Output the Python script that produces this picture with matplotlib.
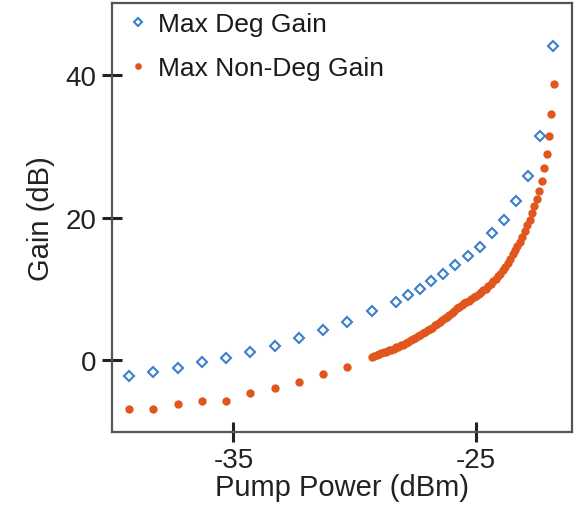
import numpy as np
import matplotlib.pyplot as plt

plt.rcParams['font.family'] = ['Liberation Sans', 'DejaVu Sans']
plt.rcParams['axes.unicode_minus'] = False

# max degenerate gain (diamonds)
deg_power = [-39.3, -38.3, -37.3, -36.3, -35.3, -34.3, -33.3, -32.3, -31.3, -30.3,
             -29.3, -28.3, -27.8, -27.3, -26.85, -26.35, -25.85, -25.35, -24.85,
             -24.35, -23.85, -23.35, -22.85, -22.35, -21.85]
deg_gain = [-2.3, -1.8, -1.2, -0.4, 0.2, 1.1, 1.9, 3.0, 4.1, 5.3,
            6.9, 8.1, 9.1, 10.0, 11.0, 12.1, 13.3, 14.6, 15.9,
            17.8, 19.7, 22.3, 25.8, 31.5, 44.2]

# max non-degenerate gain (dots): coarse part then fine 0.1 dBm part
nondeg_power_coarse = [-39.3, -38.3, -37.3, -36.3, -35.3, -34.3, -33.3, -32.3, -31.3, -30.3]
nondeg_gain_coarse = [-6.9, -6.9, -6.3, -5.8, -5.8, -4.7, -4.0, -3.2, -2.1, -1.0]

nondeg_gain_fine = [0.4, 0.5, 0.7, 0.8, 0.9, 1.0, 1.1, 1.3, 1.4, 1.5,
                    1.7, 1.8, 2.0, 2.1, 2.3, 2.5, 2.7, 2.9, 3.1, 3.3,
                    3.5, 3.7, 3.9, 4.1, 4.3, 4.5, 4.8, 5.0, 5.3, 5.5,
                    5.8, 6.0, 6.3, 6.6, 6.9, 7.2, 7.4, 7.7, 7.9, 8.1,
                    8.3, 8.5, 8.8, 9.0, 9.3, 9.5, 9.8, 10.0, 10.3, 10.6,
                    11.0, 11.3, 11.7, 12.1, 12.6, 13.1, 13.6, 14.2, 14.8, 15.4,
                    16.0, 16.6, 17.3, 18.1, 18.9, 19.7, 20.6, 21.6, 22.6, 23.8,
                    25.2, 27.0, 29.0, 31.5, 34.6, 38.8]
nondeg_power_fine = np.round(np.arange(-29.3, -21.75, 0.1), 2)[:len(nondeg_gain_fine)]

nondeg_power = list(nondeg_power_coarse) + list(nondeg_power_fine)
nondeg_gain = nondeg_gain_coarse + nondeg_gain_fine

blue = '#3b7fcc'
orange = '#e0561c'

fig = plt.figure(figsize=(5.85, 5.06), dpi=100)
ax = fig.add_axes([0.1915, 0.1443, 0.7863, 0.8477])

ax.plot(deg_power, deg_gain, linestyle='none', marker='D', markersize=5.5,
        markerfacecolor='white', markeredgecolor=blue, markeredgewidth=1.5,
        label='Max Deg Gain', zorder=3)
ax.plot(nondeg_power, nondeg_gain, linestyle='none', marker='o', markersize=6,
        markerfacecolor=orange, markeredgecolor='none',
        label='Max Non-Deg Gain', zorder=2)

ax.set_xlim(-40, -21.05)
ax.set_ylim(-10.2, 50.2)
ax.set_xticks([-35, -25])
ax.set_yticks([0, 20, 40])

for s in ax.spines.values():
    s.set_color('#555555')
    s.set_linewidth(1.6)

ax.tick_params(direction='inout', length=14, width=2.2, color='#222222',
               labelsize=20, labelcolor='#222222', pad=4)
ax.set_xlabel('Pump Power (dBm)', fontsize=21, color='#222222', labelpad=0)
ax.set_ylabel('Gain (dB)', fontsize=21, color='#222222', labelpad=8)

leg = ax.legend(loc='upper left', bbox_to_anchor=(0.02, 1.0), frameon=False,
                fontsize=19, handlelength=0.6, handletextpad=0.45,
                labelspacing=0.75, borderaxespad=0.1, borderpad=0.25,
                markerscale=0.8)
for t in leg.get_texts():
    t.set_color('#1a1a1a')

fig.savefig('out.png', dpi=100)
